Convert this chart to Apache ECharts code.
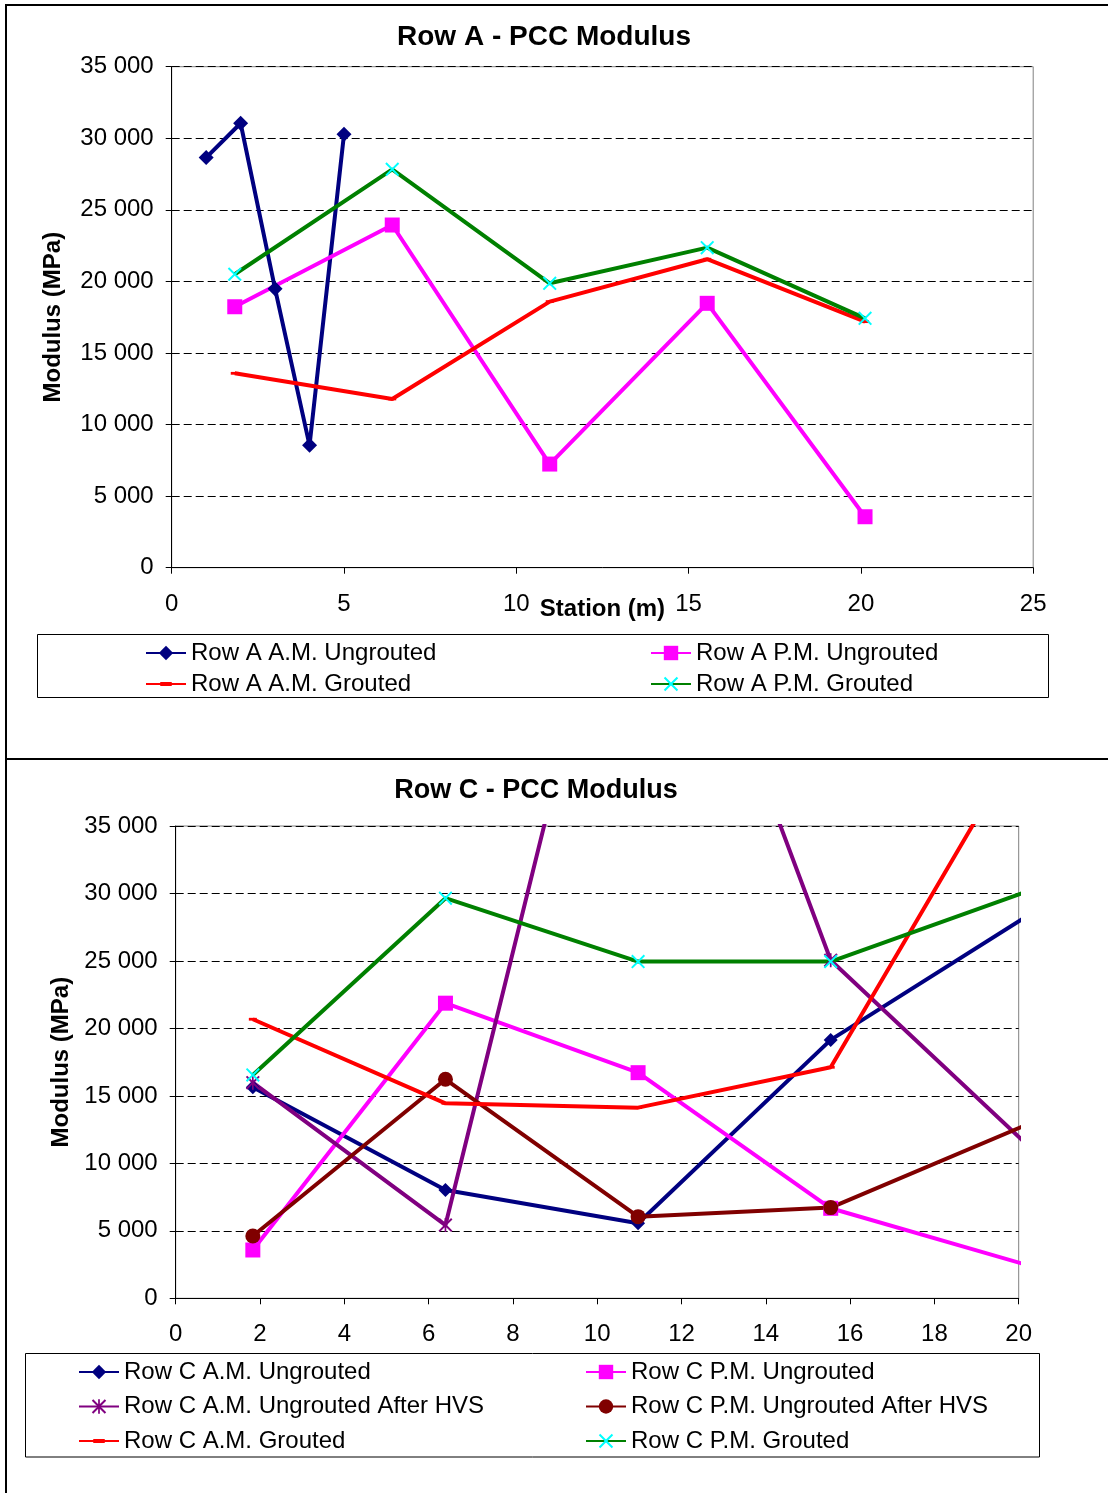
<!DOCTYPE html>
<html>
<head>
<meta charset="utf-8">
<script src="https://cdn.jsdelivr.net/npm/echarts@6/dist/echarts.min.js"></script>
<style>
  html, body { margin: 0; padding: 0; background: #fff; }
  #chart { width: 1108px; height: 1493px; }
</style>
</head>
<body>
<div id="chart"></div>
<script>
// ---- Row A data (station in m, modulus in MPa) ----
const stationsA_AM_Ungrouted = [1, 2, 3, 4, 5];
const stationsA = [1.83, 6.40, 10.97, 15.54, 20.12];
const rowA_AM_Ungrouted = [28650, 31050, 19480, 8550, 30280];
const rowA_PM_Ungrouted = [18230, 23940, 7240, 18470, 3560];
const rowA_AM_Grouted = [13580, 11790, 18590, 21550, 17190];
const rowA_PM_Grouted = [20500, 27830, 19870, 22360, 17420];

// ---- Row C data ----
const stationsC = [1.83, 6.40, 10.97, 15.54, 20.12];
const rowC_AM_Ungrouted = [15640, 8030, 5560, 19150, 28170];
const rowC_PM_Ungrouted = [3580, 21870, 16720, 6670, 2540];
const rowC_AM_UngroutedHVS = [15980, 5430, 63200, 25050, 11610];
const rowC_PM_UngroutedHVS = [4620, 16230, 6050, 6720, 12770];
const rowC_AM_Grouted = [20680, 14450, 14130, 17120, 41500];
const rowC_PM_Grouted = [16550, 29650, 24950, 24950, 30070];

// ---- axis ticks ----
const yTicks = { min: 0, max: 35000, interval: 5000 };
const xTicksA = { min: 0, max: 25, interval: 5 };
const xTicksC = { min: 0, max: 20, interval: 2 };

const FONT = '"Liberation Sans", Arial, sans-serif';

// marker shapes (leading moveTo points keep the 10x10 bounding box)
const X_MARK = 'path://M0,1L1,0L5,4L9,0L10,1L6,5L10,9L9,10L5,6L1,10L0,9L4,5Z';
const STAR_MARK = 'path://M0,1L1,0L5,4L9,0L10,1L6,5L10,9L9,10L5,6L1,10L0,9L4,5Z M4.4,0L5.6,0L5.6,10L4.4,10Z';
const DASH_MARK = 'path://M0,0M10,10M1,3.6L9,3.6L9,6.4L1,6.4Z';

function fmtThousands(v) {
  if (v === 0) return '0';
  return Math.floor(v / 1000) + ' ' + String(v % 1000).padStart(3, '0');
}

function pairs(xs, ys, xMax) {
  return xs.map((x, i) => {
    const item = { value: [x, ys[i]] };
    if (x > xMax) item.symbol = 'none';
    return item;
  });
}

function lineSeries(name, xs, ys, axisIdx, color, symbol, symbolSize, markerColor, xMax, clip) {
  return {
    name: name,
    type: 'line',
    xAxisIndex: axisIdx,
    yAxisIndex: axisIdx,
    data: pairs(xs, ys, xMax),
    symbol: symbol,
    symbolSize: symbolSize,
    showAllSymbol: true,
    clip: clip,
    lineStyle: { color: color, width: 4 },
    itemStyle: { color: markerColor || color, borderWidth: 0 },
    emphasis: { disabled: true },
    animation: false
  };
}

const axisLabelStyle = { color: '#000', fontSize: 24, fontFamily: FONT };
const nameStyle = { color: '#000', fontSize: 24, fontWeight: 'bold', fontFamily: FONT };

function xAxis(idx, ticks, margin, name) {
  return {
    type: 'value', gridIndex: idx,
    min: ticks.min, max: ticks.max, interval: ticks.interval,
    name: name || '', nameLocation: 'middle', nameGap: 30,
    nameMoveOverlap: false,
    nameTextStyle: nameStyle,
    axisLine: { show: true, lineStyle: { color: '#000', width: 1 } },
    axisTick: { show: true, length: 6, lineStyle: { color: '#000' } },
    axisLabel: Object.assign({ margin: margin }, axisLabelStyle),
    splitLine: { show: false }
  };
}

function yAxis(idx, gap) {
  return {
    type: 'value', gridIndex: idx,
    min: yTicks.min, max: yTicks.max, interval: yTicks.interval,
    name: 'Modulus (MPa)', nameLocation: 'middle', nameGap: gap,
    nameTextStyle: nameStyle,
    axisLine: { show: true, lineStyle: { color: '#000', width: 1 } },
    axisTick: { show: true, length: 6, lineStyle: { color: '#000' } },
    axisLabel: Object.assign({ margin: 18, formatter: fmtThousands }, axisLabelStyle),
    splitLine: { show: true, lineStyle: { color: '#000', width: 1, type: [8, 4] } }
  };
}

function legend(names, left, top, gap) {
  return {
    orient: 'vertical',
    left: left, top: top,
    padding: 0,
    itemGap: gap,
    itemWidth: 40,
    itemHeight: 18,
    data: names,
    selectedMode: false,
    textStyle: { color: '#000', fontSize: 24, fontFamily: FONT, lineHeight: 24 }
  };
}

const chart = echarts.init(document.getElementById('chart'), null, { renderer: 'canvas' });

const option = {
  backgroundColor: '#fff',
  animation: false,
  title: [
    { text: 'Row A - PCC Modulus', left: 544, top: 23, textAlign: 'center', padding: 0,
      textStyle: { color: '#000', fontSize: 28, fontWeight: 'bold', fontFamily: FONT } },
    { text: 'Row C - PCC Modulus', left: 536, top: 777, textAlign: 'center', padding: 0,
      textStyle: { color: '#000', fontSize: 27, fontWeight: 'bold', fontFamily: FONT } }
  ],
  grid: [
    { left: 171.7, top: 66.7, width: 861.5, height: 501, show: true,
      borderColor: '#808080', borderWidth: 1, backgroundColor: 'transparent' },
    { left: 175.7, top: 826, width: 843, height: 472.3, show: true,
      borderColor: '#808080', borderWidth: 1, backgroundColor: 'transparent' }
  ],
  xAxis: [xAxis(0, xTicksA, 25, 'Station (m)'), xAxis(1, xTicksC, 24)],
  yAxis: [yAxis(0, 106), yAxis(1, 102)],
  legend: [
    legend(['Row A A.M. Ungrouted', 'Row A A.M. Grouted'], 145, 641, 7),
    legend(['Row A P.M. Ungrouted', 'Row A P.M. Grouted'], 650, 641, 7),
    legend(['Row C A.M. Ungrouted', 'Row C A.M. Ungrouted After HVS', 'Row C A.M. Grouted'], 78, 1360, 10.5),
    legend(['Row C P.M. Ungrouted', 'Row C P.M. Ungrouted After HVS', 'Row C P.M. Grouted'], 585, 1360, 10.5)
  ],
  series: [
    lineSeries('Row A A.M. Ungrouted', stationsA_AM_Ungrouted, rowA_AM_Ungrouted, 0, '#000080', 'diamond', 15, null, 25, true),
    lineSeries('Row A P.M. Ungrouted', stationsA, rowA_PM_Ungrouted, 0, '#FF00FF', 'rect', 15, null, 25, true),
    lineSeries('Row A A.M. Grouted', stationsA, rowA_AM_Grouted, 0, '#FF0000', DASH_MARK, 10, null, 25, true),
    lineSeries('Row A P.M. Grouted', stationsA, rowA_PM_Grouted, 0, '#008000', X_MARK, 14, '#00FFFF', 25, true),

    lineSeries('Row C A.M. Ungrouted', stationsC, rowC_AM_Ungrouted, 1, '#000080', 'diamond', 14, null, 20, false),
    lineSeries('Row C P.M. Ungrouted', stationsC, rowC_PM_Ungrouted, 1, '#FF00FF', 'rect', 15, null, 20, false),
    lineSeries('Row C A.M. Ungrouted After HVS', stationsC, rowC_AM_UngroutedHVS, 1, '#800080', STAR_MARK, 14, null, 20, true),
    lineSeries('Row C P.M. Ungrouted After HVS', stationsC, rowC_PM_UngroutedHVS, 1, '#800000', 'circle', 15, null, 20, false),
    lineSeries('Row C A.M. Grouted', stationsC, rowC_AM_Grouted, 1, '#FF0000', DASH_MARK, 10, null, 20, true),
    lineSeries('Row C P.M. Grouted', stationsC, rowC_PM_Grouted, 1, '#008000', X_MARK, 14, '#00FFFF', 20, false)
  ],
  graphic: [
    // page frame and divider between the two charts
    { type: 'line', shape: { x1: 6, y1: 5, x2: 1108, y2: 5 }, style: { stroke: '#000', lineWidth: 2 }, silent: true },
    { type: 'line', shape: { x1: 6, y1: 4, x2: 6, y2: 1493 }, style: { stroke: '#000', lineWidth: 2 }, silent: true },
    { type: 'line', shape: { x1: 6, y1: 759, x2: 1108, y2: 759 }, style: { stroke: '#000', lineWidth: 2 }, silent: true },
    // legend boxes
    { type: 'rect', shape: { x: 37.5, y: 634.5, width: 1011, height: 63 }, style: { fill: 'none', stroke: '#000', lineWidth: 1 }, silent: true, z: -1 },
    { type: 'rect', shape: { x: 25.5, y: 1353.5, width: 1014, height: 103.5 }, style: { fill: 'none', stroke: '#000', lineWidth: 1 }, silent: true, z: -1 }
  ]
};

chart.setOption(option);
</script>
</body>
</html>
